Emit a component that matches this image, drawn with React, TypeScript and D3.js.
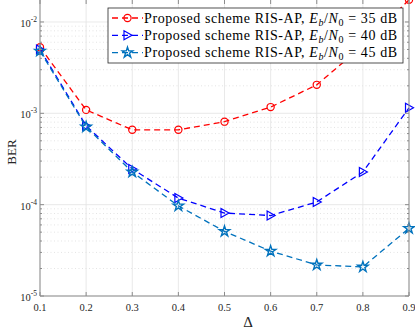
import React from 'react'
import * as d3 from 'd3'

const DELTA = [0.1, 0.2, 0.3, 0.4, 0.5, 0.6, 0.7, 0.8, 0.9]
const BER_35 = [5.3e-3, 1.09e-3, 6.6e-4, 6.6e-4, 8.1e-4, 1.17e-3, 2.05e-3, 5.5e-3, 1.75e-2]
const BER_40 = [5.0e-3, 7.3e-4, 2.46e-4, 1.18e-4, 8.1e-5, 7.6e-5, 1.07e-4, 2.28e-4, 1.15e-3]
const BER_45 = [4.8e-3, 7.1e-4, 2.28e-4, 9.7e-5, 5.1e-5, 3.1e-5, 2.19e-5, 2.08e-5, 5.5e-5]
const SNR_LABELS = ['35', '40', '45']
const X_TICKS = [0.1, 0.2, 0.3, 0.4, 0.5, 0.6, 0.7, 0.8, 0.9]
const Y_DECADES = [-5, -4, -3, -2]

const W = 415, H = 332
const margin = { top: 0, right: 6, bottom: 36, left: 40 }
const FONT = '"Liberation Serif", "DejaVu Serif", serif'

const series = [
  { values: BER_35, color: '#ff0000', marker: 'circle', snr: SNR_LABELS[0] },
  { values: BER_40, color: '#0000ff', marker: 'triangle', snr: SNR_LABELS[1] },
  { values: BER_45, color: '#0072bd', marker: 'star', snr: SNR_LABELS[2] },
]

const Marker = ({ type, x, y, color }: { type: string; x: number; y: number; color: string }) => {
  if (type === 'circle') {
    return <circle cx={x} cy={y} r={3.6} fill="none" stroke={color} strokeWidth={1.2} />
  }
  if (type === 'triangle') {
    return <path d={`M${x - 3.5},${y - 4.5}L${x + 4.5},${y}L${x - 3.5},${y + 4.5}Z`} fill="none" stroke={color} strokeWidth={1.2} />
  }
  const star = d3.symbol().type(d3.symbolStar).size(34)()
  return <path d={star || ''} transform={`translate(${x},${y})`} fill="none" stroke={color} strokeWidth={1.4} />
}

export default function App() {
  const x = d3.scaleLinear().domain([0.1, 0.9]).range([margin.left, W - margin.right])
  const y = d3.scaleLog().domain([1e-5, 0.0174]).range([H - margin.bottom, margin.top])

  const line = d3.line<number>()
    .x((_, i) => x(DELTA[i]))
    .y(d => y(d))

  const minor: number[] = []
  Y_DECADES.concat([-1]).forEach(e => {
    for (let k = 2; k <= 9; k++) {
      const v = k * Math.pow(10, e)
      if (v <= y.domain()[1]) minor.push(v)
    }
  })

  const x0 = margin.left, x1 = W - margin.right
  const y0 = H - margin.bottom, y1 = margin.top
  const axisColor = '#8c8c8c'

  const lgX = 108, lgY = 8, lgW = 295, lgH = 55, rowH = 17.3

  return (
    <svg width={W} height={H} style={{ position: 'absolute', left: 0, top: 0, background: '#fff' }} fontFamily={FONT}>
      <rect x={0} y={0} width={W} height={H} fill="#fff" />
      {/* minor grid */}
      {minor.map(v => (
        <line key={'mg' + v} x1={x0} x2={x1} y1={y(v)} y2={y(v)} stroke="#d9d9d9" strokeWidth={0.7} strokeDasharray="1,2.5" />
      ))}
      {/* major grid */}
      {X_TICKS.map(t => (
        <line key={'gx' + t} x1={x(t)} x2={x(t)} y1={y0} y2={y1} stroke="#e3e3e3" strokeWidth={0.8} />
      ))}
      {Y_DECADES.map(e => (
        <line key={'gy' + e} x1={x0} x2={x1} y1={y(Math.pow(10, e))} y2={y(Math.pow(10, e))} stroke="#e3e3e3" strokeWidth={0.8} />
      ))}

      {/* series */}
      {series.map((s, si) => (
        <g key={'s' + si}>
          <path d={line(s.values) || ''} fill="none" stroke={s.color} strokeWidth={1.3} strokeDasharray="6,4" />
          {s.values.map((v, i) => (
            <Marker key={i} type={s.marker} x={x(DELTA[i])} y={y(v)} color={s.color} />
          ))}
        </g>
      ))}

      {/* axes box */}
      <line x1={x0} x2={x0} y1={y0} y2={y1} stroke={axisColor} strokeWidth={1} />
      <line x1={x1} x2={x1} y1={y0} y2={y1} stroke={axisColor} strokeWidth={1} />
      <line x1={x0} x2={x1} y1={y0} y2={y0} stroke={axisColor} strokeWidth={1} />
      {X_TICKS.map(t => (
        <g key={'xt' + t}>
          <line x1={x(t)} x2={x(t)} y1={y0} y2={y0 - 4} stroke={axisColor} />
          <line x1={x(t)} x2={x(t)} y1={y1} y2={y1 + 4} stroke={axisColor} />
          <text x={x(t)} y={y0 + 15} fontSize={10.5} textAnchor="middle" fill="#262626">{t.toFixed(1)}</text>
        </g>
      ))}
      {Y_DECADES.map(e => (
        <g key={'yt' + e}>
          <line x1={x0} x2={x0 + 4} y1={y(Math.pow(10, e))} y2={y(Math.pow(10, e))} stroke={axisColor} />
          <line x1={x1} x2={x1 - 4} y1={y(Math.pow(10, e))} y2={y(Math.pow(10, e))} stroke={axisColor} />
          <text x={x0 - 3} y={y(Math.pow(10, e)) + 5} fontSize={10.5} textAnchor="end" fill="#262626">
            10<tspan dy={-5} fontSize={7.5}>{'-' + Math.abs(e)}</tspan>
          </text>
        </g>
      ))}
      {minor.map(v => (
        <g key={'mt' + v}>
          <line x1={x0} x2={x0 + 2} y1={y(v)} y2={y(v)} stroke={axisColor} />
          <line x1={x1} x2={x1 - 2} y1={y(v)} y2={y(v)} stroke={axisColor} />
        </g>
      ))}

      {/* axis labels */}
      <text x={248} y={327} fontSize={15} textAnchor="middle" fill="#262626">Δ</text>
      <text transform={`translate(16,${(y0 + y1) / 2 + 4}) rotate(-90)`} fontSize={13} textAnchor="middle" fill="#262626">BER</text>

      {/* legend */}
      <rect x={lgX} y={lgY} width={lgW} height={lgH} fill="#fff" stroke="#262626" strokeWidth={0.8} />
      {series.map((s, i) => {
        const cy = lgY + 10 + i * rowH
        return (
          <g key={'lg' + i}>
            <line x1={lgX + 4} x2={lgX + 35} y1={cy} y2={cy} stroke={s.color} strokeWidth={1.3} strokeDasharray="6,4" />
            <Marker type={s.marker} x={lgX + 19.5} y={cy} color={s.color} />
            <text x={lgX + 36} y={cy + 4.5} fontSize={14} letterSpacing={0.6} fill="#000">
              Proposed scheme RIS-AP, <tspan fontStyle="italic">E</tspan>
              <tspan dy={3} fontSize={10} fontStyle="italic">b</tspan>
              <tspan dy={-3}>/</tspan>
              <tspan fontStyle="italic">N</tspan>
              <tspan dy={3} fontSize={10}>0</tspan>
              <tspan dy={-3}> = {s.snr} dB</tspan>
            </text>
          </g>
        )
      })}
    </svg>
  )
}
